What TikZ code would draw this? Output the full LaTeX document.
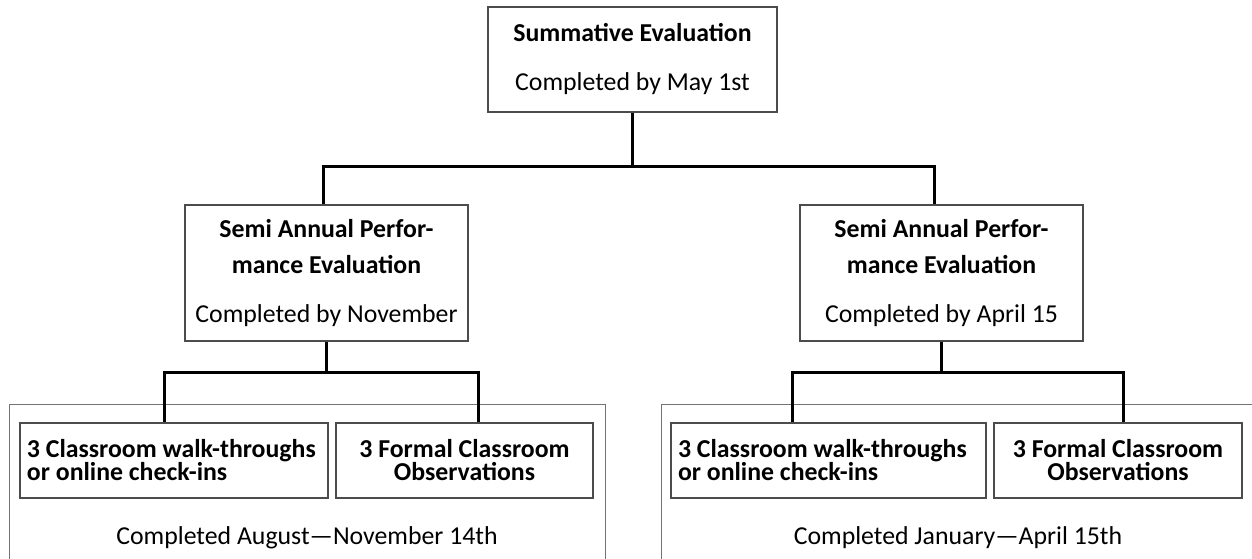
\documentclass[tikz,border=0pt]{standalone}
\usepackage{fontspec}
\setmainfont{Carlito}
\begin{document}
\begin{tikzpicture}[x=1pt,y=-1pt,
  box/.style={draw=black!70, line width=1.1pt, fill=white, inner sep=0pt, align=center},
  cont/.style={draw=black!55, line width=1.1pt, inner sep=0pt},
  conn/.style={draw=black, line width=3pt, line join=miter},
  bigtxt/.style={font=\fontsize{25.8}{49}\selectfont},
  midtxt/.style={font=\fontsize{25.8}{36}\selectfont},
  subtxt/.style={font=\fontsize{25.8}{23}\selectfont\bfseries},
  datetxt/.style={font=\fontsize{25.8}{30}\selectfont, inner sep=0pt}]
\useasboundingbox (0,0) rectangle (1252,559);
\clip (0,0) rectangle (1252,559);
% containers
\node[cont, minimum width=596pt, minimum height=200pt, anchor=north west] (contL) at (9,404) {};
\node[cont, minimum width=594pt, minimum height=200pt, anchor=north west] (contR) at (661,404) {};
% boxes
\node[box, bigtxt, minimum width=289pt, minimum height=105pt] (top) at (632.5,59.5)
  {\textbf{Summative Evaluation}\\Completed by May 1st};
\node[box, midtxt, minimum width=283pt, minimum height=136pt] (midL) at (326.5,273)
  {\textbf{Semi Annual Perfor-}\\\textbf{mance Evaluation}\\[13pt]Completed by November};
\node[box, midtxt, minimum width=283pt, minimum height=136pt] (midR) at (941.5,273)
  {\textbf{Semi Annual Perfor-}\\\textbf{mance Evaluation}\\[13pt]Completed by April 15};
\node[box, subtxt, align=flush left, text width=294pt, inner xsep=7pt, minimum height=75pt] (subLA) at (174,460.5)
  {3 Classroom walk-throughs\\or online check-ins};
\node[box, subtxt, minimum width=257pt, minimum height=75pt] (subLB) at (464.5,460.5)
  {3 Formal Classroom\\Observations};
\node[box, subtxt, align=flush left, text width=301pt, inner xsep=7pt, minimum height=75pt] (subRA) at (828.5,460.5)
  {3 Classroom walk-throughs\\or online check-ins};
\node[box, subtxt, minimum width=248pt, minimum height=75pt] (subRB) at (1118,460.5)
  {3 Formal Classroom\\Observations};
\node[datetxt] (dateL) at (307,538) {Completed August—November 14th};
\node[datetxt] (dateR) at (958,538) {Completed January—April 15th};
% connectors
\draw[conn] (top.south) -- ++(0,54) coordinate (jT);
\draw[conn] (jT) -| ([xshift=-3.5pt]midL.north);
\draw[conn] (jT) -| ([xshift=-7.5pt]midR.north);
\draw[conn] (midL.south) -- ++(0,31) coordinate (jL);
\draw[conn] (jL) -| ([xshift=-10pt]subLA.north);
\draw[conn] (jL) -| ([xshift=13.5pt]subLB.north);
\draw[conn] (midR.south) -- ++(0,31) coordinate (jR);
\draw[conn] (jR) -| ([xshift=-36.5pt]subRA.north);
\draw[conn] (jR) -| ([xshift=5pt]subRB.north);
\end{tikzpicture}
\end{document}
